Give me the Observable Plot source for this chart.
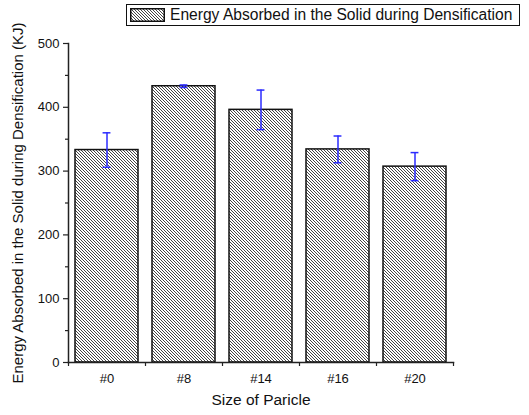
<!DOCTYPE html>
<html>
<head>
<meta charset="utf-8">
<script src="https://cdn.jsdelivr.net/npm/d3@7"></script>
<script src="https://cdn.jsdelivr.net/npm/@observablehq/plot@0.6"></script>
<style>
  html, body { margin: 0; padding: 0; background: #fff; }
  #wrap { position: relative; width: 529px; height: 415px; font-family: Arial, "Liberation Sans", sans-serif; }
  #legend { position: absolute; left: 126px; top: 4px; width: 394px; height: 22px; border: 1px solid #111; box-sizing: border-box; background: #fff; display: flex; align-items: center; }
  #legend svg { margin-left: 3px; margin-right: 5px; }
  #legend span { font-size: 15.6px; color: #111; white-space: nowrap; }
</style>
</head>
<body>
<div id="wrap"><div id="legend"></div></div>
<script>
const categories = ["#0", "#8", "#14", "#16", "#20"];
const values = [333, 433, 396, 334, 307];
const errors = [27, 2, 31, 21, 22];
const yMajorTicks = [0, 100, 200, 300, 400, 500];
const yMinorTicks = [50, 150, 250, 350, 450];
const seriesLabel = "Energy Absorbed in the Solid during Densification";
const xTitle = "Size of Paricle";
const yTitle = "Energy Absorbed in the Solid during Densification (KJ)";

const data = categories.map((c, i) => ({cat: c, value: values[i], err: errors[i]}));

const W = 529, H = 415, ml = 68, mr = 76, mt = 43, mb = 53;
const step = (W - ml - mr) / categories.length;
const axisColor = "#222";
const errColor = "#2b2bff";
const capInset = (step * 0.82 - 8) / 2;

const chart = Plot.plot({
  width: W, height: H,
  marginLeft: ml, marginRight: mr, marginTop: mt, marginBottom: mb,
  style: {fontFamily: "Arial, 'Liberation Sans', sans-serif", fontSize: "13px", color: "#111", background: "#fff"},
  x: {domain: categories, paddingInner: 0.18, paddingOuter: 0.09, label: null},
  y: {domain: [0, 500], label: null},
  marks: [
    Plot.barY(data, {x: "cat", y: "value", fill: "url(#hatch)", stroke: "#111", strokeWidth: 1.5}),
    Plot.ruleX(data, {x: "cat", y1: d => d.value - d.err, y2: d => d.value + d.err, stroke: errColor, strokeWidth: 1.5}),
    Plot.tickY(data, {x: "cat", y: d => d.value - d.err, stroke: errColor, strokeWidth: 1.5, insetLeft: capInset, insetRight: capInset}),
    Plot.tickY(data, {x: "cat", y: d => d.value + d.err, stroke: errColor, strokeWidth: 1.5, insetLeft: capInset, insetRight: capInset}),
    Plot.frame({anchor: "left", stroke: axisColor, strokeWidth: 1.5}),
    Plot.frame({anchor: "bottom", stroke: axisColor, strokeWidth: 1.5}),
    Plot.axisY({ticks: yMajorTicks, tickSize: 5, tickPadding: 4, stroke: axisColor, strokeWidth: 1.2, tickFormat: d3.format("d"), label: null}),
    Plot.axisY({ticks: yMinorTicks, tickSize: 3, text: null, stroke: axisColor, strokeWidth: 1.2, label: null}),
    Plot.axisX({tickSize: 0, tickPadding: 11, label: null}),
    Plot.axisX({ticks: categories, text: null, tickSize: 4, dx: -step / 2, stroke: axisColor, strokeWidth: 1.2, label: null}),
    Plot.axisX({ticks: categories.slice(-1), text: null, tickSize: 4, dx: step / 2, stroke: axisColor, strokeWidth: 1.2, label: null}),
    Plot.text([xTitle], {frameAnchor: "bottom", dy: 42, fontSize: 15.5, fill: "#111"}),
    Plot.text([yTitle], {frameAnchor: "left", textAnchor: "middle", dx: -50, rotate: -90, fontSize: 15, fill: "#111"})
  ]
});

function addHatch(svg, id) {
  const ns = "http://www.w3.org/2000/svg";
  const defs = document.createElementNS(ns, "defs");
  const pat = document.createElementNS(ns, "pattern");
  pat.setAttribute("id", id);
  pat.setAttribute("patternUnits", "userSpaceOnUse");
  pat.setAttribute("width", "3");
  pat.setAttribute("height", "3");
  const bg = document.createElementNS(ns, "rect");
  bg.setAttribute("width", "3"); bg.setAttribute("height", "3"); bg.setAttribute("fill", "#fff");
  const p = document.createElementNS(ns, "path");
  p.setAttribute("d", "M-1,-1L4,4M-1,2L1,4M2,-1L4,1");
  p.setAttribute("stroke", "#222");
  p.setAttribute("stroke-width", "0.85");
  pat.appendChild(bg); pat.appendChild(p);
  defs.appendChild(pat);
  svg.insertBefore(defs, svg.firstChild);
}
addHatch(chart, "hatch");
document.getElementById("wrap").insertBefore(chart, document.getElementById("legend"));
chart.style.position = "absolute"; chart.style.left = "0"; chart.style.top = "0";

// legend
const leg = document.getElementById("legend");
const sw = document.createElementNS("http://www.w3.org/2000/svg", "svg");
sw.setAttribute("width", "35"); sw.setAttribute("height", "14");
addHatch(sw, "hatch2");
const r = document.createElementNS("http://www.w3.org/2000/svg", "rect");
r.setAttribute("x", "0.75"); r.setAttribute("y", "0.75"); r.setAttribute("width", "33.5"); r.setAttribute("height", "12.5");
r.setAttribute("fill", "url(#hatch2)"); r.setAttribute("stroke", "#111"); r.setAttribute("stroke-width", "1.5");
sw.appendChild(r);
leg.appendChild(sw);
const t = document.createElement("span");
t.textContent = seriesLabel;
leg.appendChild(t);
</script>
</body>
</html>
